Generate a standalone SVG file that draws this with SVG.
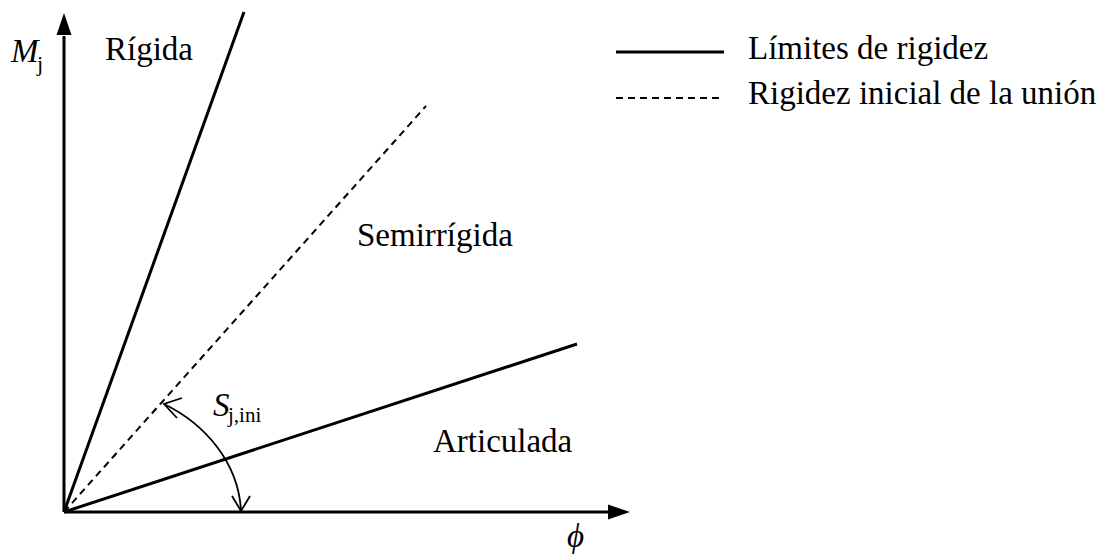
<svg xmlns="http://www.w3.org/2000/svg" width="1109" height="557" viewBox="0 0 1109 557">
<style>
text{font-family:"Liberation Serif","Times New Roman",serif;fill:#000}
.lbl{font-size:33px}
.it{font-style:italic}
.solid{stroke:#000;stroke-width:3;fill:none}
.dash{stroke:#000;stroke-width:2;fill:none;stroke-dasharray:7 5}
.arc{stroke:#000;stroke-width:1.8;fill:none}
</style>
<defs>
<marker id="ah" markerWidth="12" markerHeight="10" refX="11" refY="5" orient="auto" markerUnits="userSpaceOnUse">
<path d="M0,0 L12,5 L0,10 Z" fill="#000"/>
</marker>
</defs>
<rect width="1109" height="557" fill="#fff"/>
<g id="axes">
<line class="solid" x1="64" y1="512" x2="64" y2="36"/>
<path d="M64,13 L56.5,35 L71.5,35 Z" fill="#000"/>
<line class="solid" x1="64" y1="512" x2="608" y2="512"/>
<path d="M630,512 L608,504.5 L608,519.5 Z" fill="#000"/>
</g>
<g id="connectors">
<line class="solid" x1="64" y1="512" x2="244" y2="12"/>
<line class="dash" x1="64" y1="512" x2="426" y2="106"/>
<line class="solid" x1="64" y1="512" x2="577" y2="344"/>
<path class="arc" d="M164,404 C205,424 238,462 241,510"/>
<path class="arc" d="M182,398 L164,404 L177,418"/>
<path class="arc" d="M232,496 L241,511 L250,496"/>
</g>
<g id="legend">
<line class="solid" x1="616" y1="52" x2="724" y2="52"/>
<line class="dash" x1="616" y1="98" x2="724" y2="98"/>
<text class="lbl" x="748" y="59">Límites de rigidez</text>
<text class="lbl" x="748" y="104">Rigidez inicial de la unión</text>
</g>
<g id="labels">
<text class="lbl" x="105" y="60">Rígida</text>
<text class="lbl" x="357" y="246">Semirrígida</text>
<text class="lbl" x="433" y="452">Articulada</text>
<text class="lbl it" x="11" y="62">M</text>
<text x="37" y="71" font-size="22">j</text>
<text class="lbl it" x="213" y="416">S</text>
<text x="228" y="422" font-size="21">j,ini</text>
<text class="lbl it" x="567" y="547">ϕ</text>
</g>
</svg>
